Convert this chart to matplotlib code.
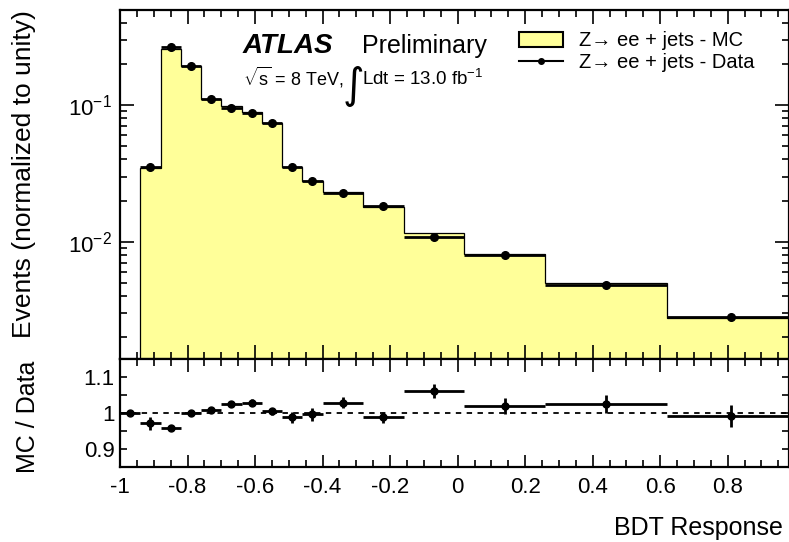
import matplotlib
matplotlib.use("Agg")
import matplotlib.pyplot as plt
from matplotlib.lines import Line2D
from matplotlib.patches import Patch
from matplotlib.ticker import MultipleLocator, LogLocator, NullFormatter
import numpy as np

plt.rcParams['font.family'] = ['Liberation Sans', 'DejaVu Sans']
plt.rcParams['mathtext.fontset'] = 'custom'
plt.rcParams['mathtext.rm'] = 'Liberation Sans'
plt.rcParams['mathtext.it'] = 'Liberation Sans:italic'
plt.rcParams['mathtext.bf'] = 'Liberation Sans:bold'

# bin edges of the BDT response (first bin -1..-0.94 is empty)
edges = [-1.0, -0.94, -0.88, -0.82, -0.76, -0.70, -0.64, -0.58, -0.52,
         -0.46, -0.40, -0.28, -0.16, 0.02, 0.26, 0.62, 1.0]

# normalised distributions
mc_frac = [0.0, 0.0344, 0.256, 0.194, 0.111, 0.0977, 0.0895, 0.0739, 0.0350,
           0.0278, 0.0233, 0.0181, 0.0116, 0.0082, 0.00497, 0.00278]
data_frac = [0.0, 0.0354, 0.267, 0.194, 0.110, 0.0951, 0.0869, 0.0735, 0.0354,
             0.0279, 0.0226, 0.0183, 0.0109, 0.00804, 0.00484, 0.0028]

# MC / Data
ratio = [1.0, 0.972, 0.959, 1.0, 1.009, 1.027, 1.030, 1.006, 0.989,
         0.998, 1.030, 0.989, 1.062, 1.020, 1.027, 0.993]
ratio_err = [0.0, 0.018, 0.004, 0.004, 0.006, 0.007, 0.010, 0.010, 0.015,
             0.018, 0.015, 0.015, 0.020, 0.022, 0.025, 0.030]

mc_color = '#ffff99'

edges = np.array(edges)
centers = 0.5 * (edges[1:] + edges[:-1])
halfw = 0.5 * (edges[1:] - edges[:-1])
mc_frac = np.array(mc_frac)
data_frac = np.array(data_frac)

fig = plt.figure(figsize=(7.89, 5.42), dpi=100)
L, W = 120 / 789, 668.5 / 789
ax = fig.add_axes([L, 0.33672, W, 0.64483])
rax = fig.add_axes([L, 0.13782, W, 0.1989])

# ---- main panel
ax.stairs(mc_frac[1:], edges[1:], baseline=1e-5, fill=True, color=mc_color, zorder=1)
ax.stairs(mc_frac[1:], edges[1:], baseline=1e-5, color='black', lw=0.9, zorder=2)
ax.errorbar(centers[1:], data_frac[1:], xerr=halfw[1:], fmt='o', color='black',
            ms=5.5, elinewidth=2, capsize=0, zorder=3)
ax.set_yscale('log')
ax.set_ylim(0.00138, 0.495)
ax.set_xlim(-1, 0.98)
ax.set_ylabel('Events (normalized to unity)', fontsize=19, loc='top')
ax.yaxis.set_label_coords(-0.125, 1.0)

handles = [Patch(facecolor=mc_color, edgecolor='black', lw=1.5),
           Line2D([], [], color='black', marker='o', ms=4, lw=1.5)]
ax.legend(handles, ['Z\u2192 ee + jets - MC', 'Z\u2192 ee + jets - Data'],
          loc='upper left', bbox_to_anchor=(0.585, 0.962), frameon=False,
          fontsize=14.5, handlelength=2.2, handleheight=0.8, handletextpad=0.75,
          labelspacing=0.15, borderaxespad=0)

fig.text(243 / 789, 1 - 53 / 542, 'ATLAS', fontsize=20, fontweight='bold',
         style='italic', ha='left', va='baseline')
fig.text(362 / 789, 1 - 53 / 542, 'Preliminary', fontsize=18, ha='left', va='baseline')
fig.text(243 / 789, 1 - 85 / 542, r'$\sqrt{\mathrm{s}}$ = 8 TeV,', fontsize=13,
         ha='left', va='baseline')
fig.text(343 / 789, 1 - 98 / 542, '\u222b', fontsize=30, family='DejaVu Sans',
         ha='left', va='baseline')
fig.text(362 / 789, 1 - 85 / 542, r'Ldt = 13.0 fb$^{\mathdefault{-1}}$', fontsize=13.5,
         ha='left', va='baseline')

# ---- ratio panel
rax.axhline(1.0, color='black', lw=1.3, ls=(0, (3, 3)), zorder=1)
rax.errorbar(centers, ratio, xerr=halfw, yerr=ratio_err, fmt='o', color='black',
             ms=5, elinewidth=2, capsize=0, zorder=3)
rax.set_xlim(-1, 0.98)
rax.set_ylim(0.85, 1.15)
rax.set_yticks([0.9, 1.0, 1.1])
rax.set_yticklabels(['0.9', '1', '1.1'])
rax.yaxis.set_minor_locator(MultipleLocator(0.05))
rax.set_ylabel('MC / Data', fontsize=18)
rax.yaxis.set_label_coords(-0.12, 0.47)
rax.set_xlabel('BDT Response', fontsize=18, ha='right')
rax.xaxis.set_label_coords(0.992, -0.45)
rax.set_xticks([-1, -0.8, -0.6, -0.4, -0.2, 0, 0.2, 0.4, 0.6, 0.8])
rax.set_xticklabels(['-1', '-0.8', '-0.6', '-0.4', '-0.2', '0', '0.2', '0.4', '0.6', '0.8'])

for a in (ax, rax):
    a.xaxis.set_minor_locator(MultipleLocator(0.05))
    for s in a.spines.values():
        s.set_linewidth(1.6)
    a.tick_params(which='both', direction='in', top=True, right=True, width=1.2)
    a.tick_params(which='major', length=10, labelsize=16)
    a.tick_params(which='minor', length=5)
ax.set_xticks(rax.get_xticks())
ax.tick_params(axis='x', labelbottom=False)
ax.yaxis.set_minor_formatter(NullFormatter())
ax.yaxis.set_minor_locator(LogLocator(base=10, subs=np.arange(2, 10)))
rax.tick_params(axis='y', which='major', length=5)
rax.tick_params(axis='x', which='major', length=9)
rax.tick_params(axis='x', pad=7)
ax.tick_params(axis='y', pad=6)
rax.tick_params(axis='y', pad=4)

fig.savefig('out.png', dpi=100)
